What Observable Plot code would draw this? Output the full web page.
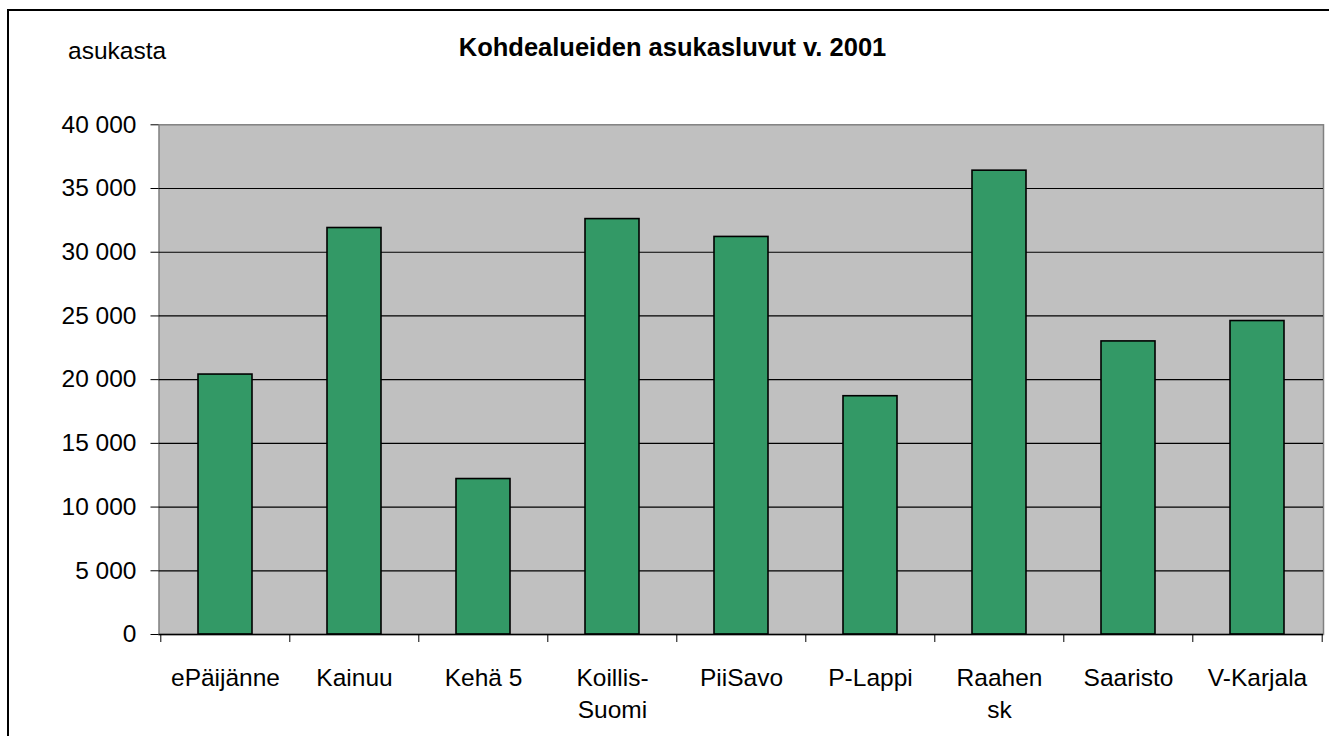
<!DOCTYPE html>
<html>
<head>
<meta charset="utf-8">
<script src="https://cdn.jsdelivr.net/npm/d3@7"></script>
<script src="https://cdn.jsdelivr.net/npm/@observablehq/plot@0.6"></script>
<style>
  html, body { margin: 0; padding: 0; background: #fff; overflow: hidden; }
  #wrap { position: relative; width: 1329px; height: 736px; overflow: hidden; font-family: "Liberation Sans", Arial, sans-serif; color: #000; }
  #border { position: absolute; left: 7px; top: 9px; width: 1400px; height: 800px; border: 2px solid #000; box-sizing: border-box; }
  #title { position: absolute; left: 672.5px; top: 35.4px; transform: translateX(-50%); font-size: 25.5px; font-weight: bold; line-height: 1; white-space: nowrap; }
  #unit { position: absolute; left: 68px; top: 38.6px; font-size: 24.5px; line-height: 1; white-space: nowrap; }
  #chart { position: absolute; left: 0; top: 0; }
</style>
</head>
<body>
<div id="wrap">
  <div id="border"></div>
  <div id="chart"></div>
  <div id="title">Kohdealueiden asukasluvut v. 2001</div>
  <div id="unit">asukasta</div>
</div>
<script>
// Data
const categories = ["ePäijänne", "Kainuu", "Kehä 5", "Koillis-Suomi", "PiiSavo", "P-Lappi", "Raahensk", "Saaristo", "V-Karjala"];
const tickLabels = ["ePäijänne", "Kainuu", "Kehä 5", "Koillis-\nSuomi", "PiiSavo", "P-Lappi", "Raahen\nsk", "Saaristo", "V-Karjala"];
const values = [20400, 31900, 12200, 32600, 31200, 18700, 36400, 23000, 24600];
const yTicks = [0, 5000, 10000, 15000, 20000, 25000, 30000, 35000, 40000];

const data = categories.map((c, i) => ({category: c, value: values[i], label: tickLabels[i]}));

const fmt = d3.formatLocale({decimal: ",", thousands: " ", grouping: [3], currency: ["", ""]}).format(",");

const W = 1329, H = 736;
const mL = 158.5, mR = 6, mT = 124.3, mB = 102;
const step = (W - mL - mR) / categories.length;
const FONT = 24.5;

const chart = Plot.plot({
  width: W,
  height: H,
  marginLeft: mL,
  marginRight: mR,
  marginTop: mT,
  marginBottom: mB,
  style: {fontFamily: "'Liberation Sans', Arial, sans-serif", color: "#000", background: "transparent", overflow: "visible"},
  x: {type: "band", domain: categories, paddingInner: 0.583, paddingOuter: 0.2915, label: null, axis: null},
  y: {domain: [0, 40000], label: null, axis: null},
  marks: [
    Plot.frame({fill: "#c0c0c0", stroke: "#808080", strokeWidth: 1.5}),
    Plot.ruleY(yTicks.filter(d => d > 0 && d < 40000), {stroke: "#000", strokeWidth: 1.2}),
    Plot.barY(data, {x: "category", y: "value", fill: "#339966", stroke: "#000", strokeWidth: 1.6}),
    Plot.ruleY([0], {stroke: "#000", strokeWidth: 1.5}),
    Plot.axisY({ticks: yTicks, tickSize: 8, tickPadding: 14.5, tickFormat: fmt, fontSize: FONT, stroke: "#000", fill: "#000", label: null, line: true}),
    Plot.axisX({tickSize: 8, tickFormat: () => "", dx: -step / 2, stroke: "#000", label: null}),
    Plot.axisX([categories[categories.length - 1]], {tickSize: 8, tickFormat: () => "", dx: step / 2, stroke: "#000", label: null}),
    Plot.text(data, {x: "category", text: "label", frameAnchor: "bottom", lineAnchor: "top", dy: 29, lineHeight: 1.3, fontSize: FONT, fill: "#000"})
  ]
});
document.getElementById("chart").appendChild(chart);
</script>
</body>
</html>
